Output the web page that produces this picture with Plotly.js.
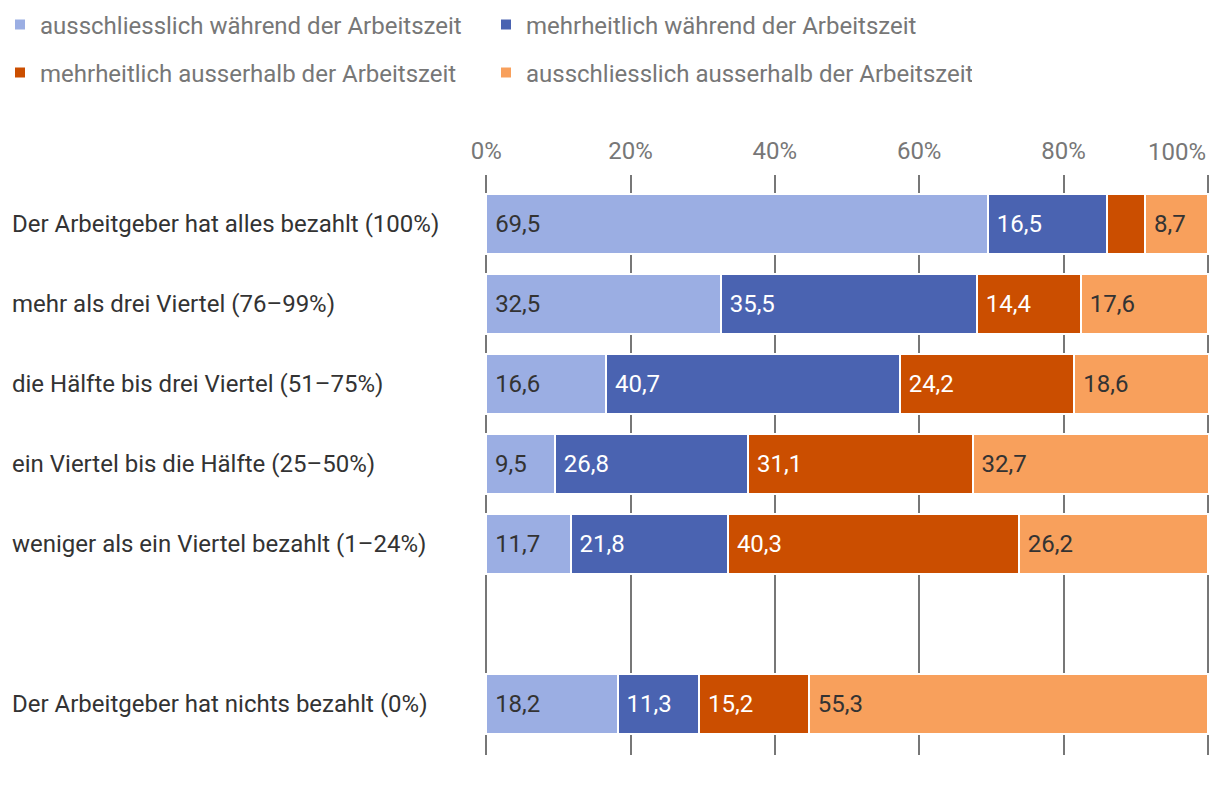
<!DOCTYPE html>
<html>
<head>
<meta charset="utf-8">
<script src="https://cdn.plot.ly/plotly-3.0.1.min.js"></script>
<style>html,body{margin:0;padding:0;background:#fff;}#chart{width:1220px;height:798px;}</style>
</head>
<body>
<div id="chart"></div>
<script>
// Categories (top to bottom); SPACER marks the empty row
const categories = [
  "Der Arbeitgeber hat alles bezahlt (100%)",
  "mehr als drei Viertel (76–99%)",
  "die Hälfte bis drei Viertel (51–75%)",
  "ein Viertel bis die Hälfte (25–50%)",
  "weniger als ein Viertel bezahlt (1–24%)",
  "Der Arbeitgeber hat nichts bezahlt (0%)"
];
const SPACER = " ";
const categoryOrder = [categories[0], categories[1], categories[2], categories[3], categories[4], SPACER, categories[5]];

const seriesNames = [
  "ausschliesslich während der Arbeitszeit",
  "mehrheitlich während der Arbeitszeit",
  "mehrheitlich ausserhalb der Arbeitszeit",
  "ausschliesslich ausserhalb der Arbeitszeit"
];
const ausschliesslichWaehrend = [69.5, 32.5, 16.6, 9.5, 11.7, 18.2];
const mehrheitlichWaehrend   = [16.5, 35.5, 40.7, 26.8, 21.8, 11.3];
const mehrheitlichAusserhalb = [5.3, 14.4, 24.2, 31.1, 40.3, 15.2];
const ausschliesslichAusserhalb = [8.7, 17.6, 18.6, 32.7, 26.2, 55.3];

const xTickVals = [0, 20, 40, 60, 80, 100];
const xTickLabels = ["0%", "20%", "40%", "60%", "80%", "100%"];

const colors = ["#9BAEE3", "#4A63B1", "#CB4E00", "#F8A05C"];
const textColors = ["#333333", "#ffffff", "#ffffff", "#333333"];
const allSeries = [ausschliesslichWaehrend, mehrheitlichWaehrend, mehrheitlichAusserhalb, ausschliesslichAusserhalb];
const legendIds = ["legend", "legend", "legend2", "legend2"];

const FS = 24;
const FONT = "Roboto, sans-serif";
const fmt = v => v < 6 ? "" : "\u00A0" + v.toFixed(1).replace(".", ",");

const traces = allSeries.map((vals, i) => ({
  type: "bar",
  orientation: "h",
  name: seriesNames[i],
  legend: legendIds[i],
  y: categories,
  x: vals,
  text: vals.map(fmt),
  textposition: "inside",
  insidetextanchor: "start",
  textangle: 0,
  insidetextfont: {family: FONT, size: FS, color: textColors[i]},
  marker: {color: colors[i], line: {color: "#ffffff", width: 2}},
  hoverinfo: "x+name"
}));

const ML = 484, MR = 10, MT = 175, MB = 43, H = 798;
const PW = 1220 - ML - MR, PH = H - MT - MB;
const annotations = categories.map(c => ({
  xref: "paper", yref: "y", x: (10 - ML) / PW, y: c,
  text: c, showarrow: false, xanchor: "left", yanchor: "middle",
  font: {family: FONT, size: FS, color: "#333333"}
}));
annotations.push({
  xref: "x", yref: "paper", x: 100, y: 1, yshift: 23,
  text: xTickLabels[xTickLabels.length - 1], showarrow: false, xanchor: "right", yanchor: "middle",
  font: {family: FONT, size: FS, color: "#777777"}
});

const legendBase = {
  orientation: "h", xref: "paper", yref: "paper", x: (0 - ML) / PW, xanchor: "left", yanchor: "middle",
  entrywidth: 441, entrywidthmode: "pixels", bgcolor: "rgba(0,0,0,0)",
  font: {family: FONT, size: FS, color: "#777777"},
  traceorder: "normal", itemclick: false
};

const layout = {
  width: 1220, height: H,
  margin: {l: ML, r: MR, t: MT, b: MB, pad: 0, autoexpand: false},
  paper_bgcolor: "#ffffff", plot_bgcolor: "#ffffff",
  barmode: "stack",
  bargap: 0.25,
  showlegend: true,
  legend: Object.assign({}, legendBase, {y: (H - MB - 25) / PH}),
  legend2: Object.assign({}, legendBase, {y: (H - MB - 73) / PH}),
  xaxis: {
    side: "top", range: [-0.3, 100.3], fixedrange: true,
    tickvals: xTickVals,
    ticktext: xTickLabels.map((t, i) => i === xTickLabels.length - 1 ? "" : t),
    ticks: "outside", ticklen: 5, tickcolor: "rgba(0,0,0,0)",
    showgrid: true, gridcolor: "#777777", gridwidth: 2,
    zeroline: false, showline: false,
    tickfont: {family: FONT, size: FS, color: "#777777"},
    automargin: false
  },
  yaxis: {
    type: "category", categoryorder: "array", categoryarray: categoryOrder,
    range: [6.6375, -0.6125], showticklabels: false, showgrid: false,
    zeroline: false, showline: false, ticks: "", fixedrange: true, automargin: false
  },
  annotations: annotations,
  font: {family: FONT}
};

Plotly.newPlot("chart", traces, layout, {displayModeBar: false, staticPlot: true});
</script>
</body>
</html>
